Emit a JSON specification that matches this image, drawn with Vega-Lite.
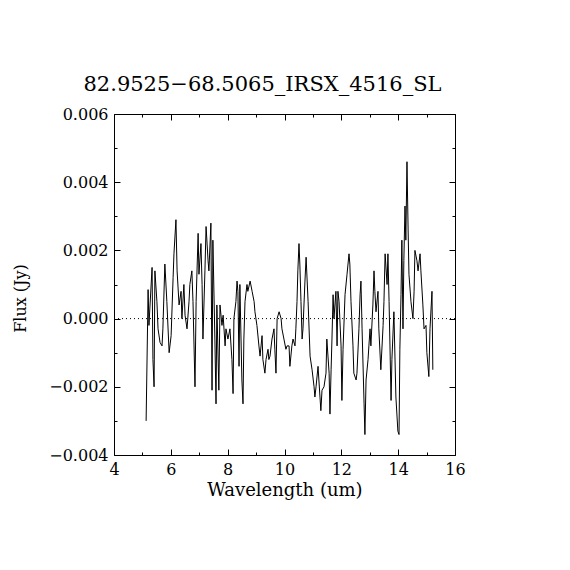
{
  "$schema": "https://vega.github.io/schema/vega-lite/v6.json",
  "autosize": "none",
  "width": 341,
  "height": 341,
  "padding": {"left": 114, "top": 114, "right": 115, "bottom": 115},
  "background": "white",
  "title": {
    "text": "82.9525−68.5065_IRSX_4516_SL",
    "font": "DejaVu Serif",
    "fontSize": 21,
    "fontWeight": "normal",
    "color": "black",
    "anchor": "middle",
    "offset": 11,
    "dx": -22
  },
  "config": {
    "view": {"stroke": "black", "strokeWidth": 1},
    "axis": {
      "domain": false,
      "grid": false,
      "labelFlush": false,
      "labelOverlap": false,
      "tickColor": "black",
      "tickWidth": 1,
      "labelColor": "black",
      "labelFont": "DejaVu Serif",
      "labelFontSize": 16,
      "titleColor": "black",
      "titleFont": "DejaVu Serif",
      "titleFontSize": 16,
      "titleFontWeight": "normal"
    }
  },
  "datasets": {
    "spectrum": [
      {"wl": 5.13, "flux": -0.0030},
      {"wl": 5.20, "flux": 0.00085},
      {"wl": 5.23, "flux": -0.0002},
      {"wl": 5.34, "flux": 0.0015},
      {"wl": 5.37, "flux": -0.0012},
      {"wl": 5.41, "flux": -0.0020},
      {"wl": 5.44, "flux": 0.0014},
      {"wl": 5.51, "flux": 0.0005},
      {"wl": 5.55, "flux": -0.0003},
      {"wl": 5.62, "flux": -0.0007},
      {"wl": 5.69, "flux": -0.0008},
      {"wl": 5.72, "flux": -0.0003},
      {"wl": 5.79, "flux": 0.0016},
      {"wl": 5.86, "flux": 0.0005},
      {"wl": 5.94, "flux": -0.0010},
      {"wl": 6.01, "flux": -0.0005},
      {"wl": 6.08, "flux": 0.0012},
      {"wl": 6.11, "flux": 0.0019},
      {"wl": 6.18, "flux": 0.0029},
      {"wl": 6.22, "flux": 0.0014},
      {"wl": 6.29, "flux": 0.0004},
      {"wl": 6.36, "flux": 0.0008},
      {"wl": 6.39, "flux": 0.0000},
      {"wl": 6.46, "flux": 0.0010},
      {"wl": 6.50, "flux": 0.0001},
      {"wl": 6.57, "flux": -0.0003},
      {"wl": 6.64, "flux": 0.0005},
      {"wl": 6.67, "flux": 0.0010},
      {"wl": 6.74, "flux": 0.0014},
      {"wl": 6.78, "flux": 0.0005},
      {"wl": 6.85, "flux": -0.0020},
      {"wl": 6.89, "flux": 0.0005},
      {"wl": 6.96, "flux": 0.0025},
      {"wl": 6.99, "flux": 0.0013},
      {"wl": 7.06, "flux": 0.0022},
      {"wl": 7.10, "flux": 0.0010},
      {"wl": 7.13, "flux": -0.0006},
      {"wl": 7.20, "flux": 0.0014},
      {"wl": 7.24, "flux": 0.0027},
      {"wl": 7.31, "flux": 0.0017},
      {"wl": 7.34, "flux": 0.0014},
      {"wl": 7.41, "flux": 0.0028},
      {"wl": 7.45, "flux": -0.0021},
      {"wl": 7.48, "flux": 0.0023},
      {"wl": 7.55, "flux": -0.0006},
      {"wl": 7.59, "flux": -0.0025},
      {"wl": 7.62, "flux": 0.0004},
      {"wl": 7.69, "flux": -0.0021},
      {"wl": 7.73, "flux": 0.0004},
      {"wl": 7.80, "flux": -0.0002},
      {"wl": 7.84, "flux": 0.0001},
      {"wl": 7.91, "flux": -0.0008},
      {"wl": 7.94, "flux": -0.0003},
      {"wl": 8.01, "flux": -0.0006},
      {"wl": 8.08, "flux": -0.0003},
      {"wl": 8.15, "flux": -0.0012},
      {"wl": 8.19, "flux": -0.0022},
      {"wl": 8.22, "flux": 0.0000},
      {"wl": 8.29, "flux": 0.0005},
      {"wl": 8.33, "flux": 0.0011},
      {"wl": 8.36, "flux": 0.0008},
      {"wl": 8.40, "flux": -0.0014},
      {"wl": 8.43, "flux": 0.0010},
      {"wl": 8.50, "flux": -0.0018},
      {"wl": 8.54, "flux": -0.0025},
      {"wl": 8.57, "flux": -0.0006},
      {"wl": 8.61, "flux": 0.0005},
      {"wl": 8.68, "flux": 0.0010},
      {"wl": 8.71, "flux": 0.0008},
      {"wl": 8.79, "flux": 0.0011},
      {"wl": 8.86, "flux": 0.0008},
      {"wl": 8.93, "flux": 0.0005},
      {"wl": 8.96, "flux": 0.0002},
      {"wl": 9.03, "flux": -0.0002},
      {"wl": 9.10, "flux": -0.0008},
      {"wl": 9.14, "flux": -0.0011},
      {"wl": 9.21, "flux": -0.0005},
      {"wl": 9.24, "flux": -0.0012},
      {"wl": 9.31, "flux": -0.0016},
      {"wl": 9.35, "flux": -0.0012},
      {"wl": 9.42, "flux": -0.0009},
      {"wl": 9.45, "flux": -0.0012},
      {"wl": 9.49, "flux": -0.0011},
      {"wl": 9.56, "flux": -0.0006},
      {"wl": 9.63, "flux": -0.0003},
      {"wl": 9.66, "flux": -0.0009},
      {"wl": 9.70, "flux": -0.0016},
      {"wl": 9.74, "flux": 0.0000},
      {"wl": 9.81, "flux": 0.0002},
      {"wl": 9.88, "flux": 0.0000},
      {"wl": 9.91, "flux": -0.0003},
      {"wl": 9.98, "flux": -0.0006},
      {"wl": 10.05, "flux": -0.0009},
      {"wl": 10.09, "flux": -0.0008},
      {"wl": 10.16, "flux": -0.0008},
      {"wl": 10.19, "flux": -0.0014},
      {"wl": 10.26, "flux": -0.0008},
      {"wl": 10.30, "flux": -0.0006},
      {"wl": 10.37, "flux": -0.0008},
      {"wl": 10.40, "flux": -0.0003},
      {"wl": 10.44, "flux": 0.0005},
      {"wl": 10.47, "flux": 0.0014},
      {"wl": 10.51, "flux": 0.0022},
      {"wl": 10.54, "flux": 0.0016},
      {"wl": 10.58, "flux": 0.0005},
      {"wl": 10.62, "flux": -0.0006},
      {"wl": 10.65, "flux": -0.0003},
      {"wl": 10.72, "flux": 0.0011},
      {"wl": 10.76, "flux": 0.0018},
      {"wl": 10.83, "flux": 0.0005},
      {"wl": 10.90, "flux": -0.0011},
      {"wl": 10.97, "flux": -0.0015},
      {"wl": 11.04, "flux": -0.0020},
      {"wl": 11.07, "flux": -0.0023},
      {"wl": 11.11, "flux": -0.0020},
      {"wl": 11.18, "flux": -0.0014},
      {"wl": 11.21, "flux": -0.0018},
      {"wl": 11.28, "flux": -0.0027},
      {"wl": 11.32, "flux": -0.0021},
      {"wl": 11.39, "flux": -0.0020},
      {"wl": 11.46, "flux": -0.0016},
      {"wl": 11.49, "flux": -0.0006},
      {"wl": 11.57, "flux": -0.0016},
      {"wl": 11.60, "flux": -0.0028},
      {"wl": 11.64, "flux": -0.0015},
      {"wl": 11.67, "flux": -0.0006},
      {"wl": 11.71, "flux": 0.0007},
      {"wl": 11.74, "flux": 0.0000},
      {"wl": 11.81, "flux": 0.0008},
      {"wl": 11.85, "flux": -0.0008},
      {"wl": 11.88, "flux": 0.0008},
      {"wl": 11.92, "flux": 0.0005},
      {"wl": 11.99, "flux": -0.0008},
      {"wl": 12.02, "flux": -0.0024},
      {"wl": 12.06, "flux": -0.0009},
      {"wl": 12.13, "flux": 0.0007},
      {"wl": 12.20, "flux": 0.0013},
      {"wl": 12.27, "flux": 0.0019},
      {"wl": 12.30, "flux": 0.0016},
      {"wl": 12.34, "flux": 0.0005},
      {"wl": 12.41, "flux": -0.0008},
      {"wl": 12.44, "flux": -0.0016},
      {"wl": 12.52, "flux": -0.0018},
      {"wl": 12.55, "flux": -0.0016},
      {"wl": 12.62, "flux": -0.0003},
      {"wl": 12.66, "flux": 0.0007},
      {"wl": 12.69, "flux": 0.0011},
      {"wl": 12.73, "flux": -0.0003},
      {"wl": 12.80, "flux": -0.0025},
      {"wl": 12.83, "flux": -0.0034},
      {"wl": 12.87, "flux": -0.0018},
      {"wl": 12.94, "flux": -0.0012},
      {"wl": 12.97, "flux": -0.0008},
      {"wl": 13.01, "flux": -0.0003},
      {"wl": 13.04, "flux": -0.0008},
      {"wl": 13.11, "flux": 0.0004},
      {"wl": 13.15, "flux": 0.0014},
      {"wl": 13.18, "flux": 0.0008},
      {"wl": 13.22, "flux": 0.0002},
      {"wl": 13.29, "flux": 0.0008},
      {"wl": 13.32, "flux": -0.0003},
      {"wl": 13.39, "flux": -0.0015},
      {"wl": 13.47, "flux": -0.0002},
      {"wl": 13.50, "flux": 0.0005},
      {"wl": 13.54, "flux": 0.0019},
      {"wl": 13.61, "flux": 0.0010},
      {"wl": 13.64, "flux": 0.0019},
      {"wl": 13.68, "flux": 0.0005},
      {"wl": 13.75, "flux": -0.0024},
      {"wl": 13.78, "flux": -0.0012},
      {"wl": 13.85, "flux": 0.0002},
      {"wl": 13.92, "flux": -0.0023},
      {"wl": 13.99, "flux": -0.0033},
      {"wl": 14.03, "flux": -0.0034},
      {"wl": 14.06, "flux": -0.0009},
      {"wl": 14.10, "flux": 0.0007},
      {"wl": 14.13, "flux": 0.0023},
      {"wl": 14.17, "flux": -0.0003},
      {"wl": 14.20, "flux": 0.0017},
      {"wl": 14.24, "flux": 0.0033},
      {"wl": 14.27, "flux": 0.0023},
      {"wl": 14.31, "flux": 0.0046},
      {"wl": 14.35, "flux": 0.0026},
      {"wl": 14.38, "flux": 0.0013},
      {"wl": 14.45, "flux": 0.0005},
      {"wl": 14.52, "flux": 0.0000},
      {"wl": 14.56, "flux": 0.0008},
      {"wl": 14.59, "flux": 0.0020},
      {"wl": 14.66, "flux": 0.0017},
      {"wl": 14.70, "flux": 0.0014},
      {"wl": 14.77, "flux": 0.0019},
      {"wl": 14.80, "flux": 0.0014},
      {"wl": 14.87, "flux": 0.0004},
      {"wl": 14.91, "flux": -0.0003},
      {"wl": 14.98, "flux": -0.0002},
      {"wl": 15.01, "flux": -0.0010},
      {"wl": 15.08, "flux": -0.0017},
      {"wl": 15.12, "flux": -0.0003},
      {"wl": 15.19, "flux": 0.0008},
      {"wl": 15.22, "flux": -0.0015}
    ]
  },
  "data": {"name": "spectrum"},
  "resolve": {"axis": {"x": "independent", "y": "independent"}},
  "layer": [
    {
      "mark": {"type": "line", "color": "black", "strokeWidth": 1},
      "encoding": {
        "x": {
          "field": "wl",
          "type": "quantitative",
          "scale": {"domain": [4, 16], "nice": false, "zero": false},
          "axis": {
            "orient": "bottom",
            "values": [4, 6, 8, 10, 12, 14, 16],
            "format": "d",
            "tickSize": -6,
            "labelPadding": 12,
            "title": "Wavelength (um)",
            "titleFontSize": 18,
            "titlePadding": 4
          }
        },
        "y": {
          "field": "flux",
          "type": "quantitative",
          "scale": {"domain": [-0.004, 0.006], "nice": false, "zero": false},
          "axis": {
            "orient": "left",
            "values": [-0.004, -0.002, 0, 0.002, 0.004, 0.006],
            "format": ".3f",
            "tickSize": -6,
            "labelPadding": 12,
            "title": "Flux (Jy)",
            "titleX": -94,
            "titleY": 184,
            "titleAlign": "center",
            "titleBaseline": "middle"
          }
        }
      }
    },
    {
      "mark": {"type": "line", "opacity": 0},
      "encoding": {
        "x": {
          "field": "wl",
          "type": "quantitative",
          "axis": {"orient": "bottom", "values": [5, 7, 9, 11, 13, 15], "tickSize": -3, "labels": false, "title": null}
        },
        "y": {
          "field": "flux",
          "type": "quantitative",
          "axis": {"orient": "left", "values": [-0.003, -0.001, 0.001, 0.003, 0.005], "tickSize": -3, "labels": false, "title": null}
        }
      }
    },
    {
      "mark": {"type": "line", "opacity": 0},
      "encoding": {
        "x": {
          "field": "wl",
          "type": "quantitative",
          "axis": {"orient": "top", "values": [4, 6, 8, 10, 12, 14, 16], "tickSize": -6, "labels": false, "title": null}
        },
        "y": {
          "field": "flux",
          "type": "quantitative",
          "axis": {"orient": "right", "values": [-0.004, -0.002, 0, 0.002, 0.004, 0.006], "tickSize": -6, "labels": false, "title": null}
        }
      }
    },
    {
      "mark": {"type": "line", "opacity": 0},
      "encoding": {
        "x": {
          "field": "wl",
          "type": "quantitative",
          "axis": {"orient": "top", "values": [5, 7, 9, 11, 13, 15], "tickSize": -3, "labels": false, "title": null}
        },
        "y": {
          "field": "flux",
          "type": "quantitative",
          "axis": {"orient": "right", "values": [-0.003, -0.001, 0.001, 0.003, 0.005], "tickSize": -3, "labels": false, "title": null}
        }
      }
    },
    {
      "data": {"values": [{"level": 0}]},
      "mark": {"type": "rule", "color": "black", "strokeWidth": 1, "strokeDash": [1, 3]},
      "encoding": {
        "y": {"field": "level", "type": "quantitative", "axis": null}
      }
    }
  ]
}
